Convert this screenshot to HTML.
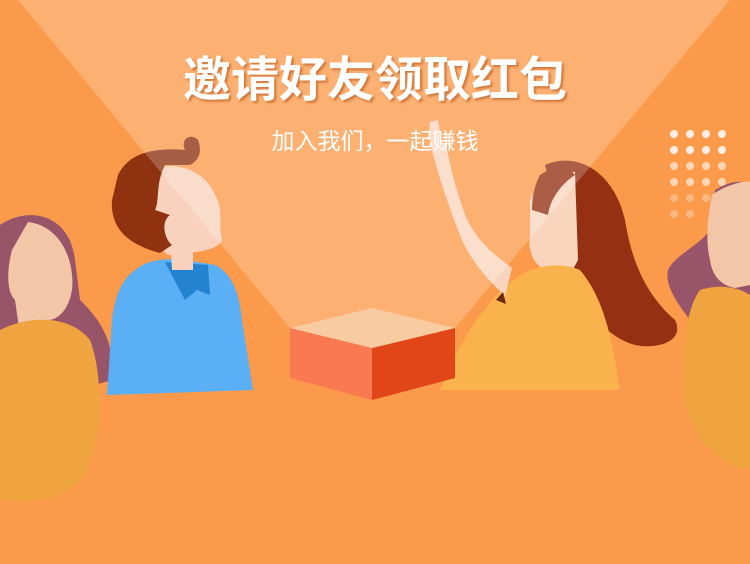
<!DOCTYPE html>
<html><head><meta charset="utf-8"><style>
html,body{margin:0;padding:0;width:750px;height:564px;overflow:hidden;background:#FB9A4A}
svg{display:block}
text{font-family:"Liberation Sans","Noto Sans CJK SC",sans-serif}
</style></head><body>
<svg width="750" height="564" viewBox="0 0 750 564">
<rect width="750" height="564" fill="#FB9A4A"/>
<g fill="#fff">
<g opacity="0.85"><circle cx="674" cy="134" r="4"/><circle cx="690" cy="134" r="4"/><circle cx="706" cy="134" r="4"/><circle cx="722" cy="134" r="4"/>
<circle cx="674" cy="150" r="4"/><circle cx="690" cy="150" r="4"/><circle cx="706" cy="150" r="4"/><circle cx="722" cy="150" r="4"/></g>
<g opacity="0.6"><circle cx="674" cy="166" r="4"/><circle cx="690" cy="166" r="4"/><circle cx="706" cy="166" r="4"/><circle cx="722" cy="166" r="4"/>
<circle cx="674" cy="182" r="4"/><circle cx="690" cy="182" r="4"/><circle cx="706" cy="182" r="4"/><circle cx="722" cy="182" r="4"/></g>
<g opacity="0.3"><circle cx="674" cy="198" r="4"/><circle cx="690" cy="198" r="4"/><circle cx="706" cy="198" r="4"/>
<circle cx="674" cy="214" r="4"/><circle cx="690" cy="214" r="4"/></g>
</g>
<g>
<path d="M0 225 C30 205 70 215 75 260 L80 300 C100 320 115 340 112 380 L60 395 L0 400 Z" fill="#985468"/>
<path d="M28 222 C55 225 70 250 72 275 C75 300 62 320 48 320 L48 335 L20 335 L15 300 C5 290 8 265 12 250 Z" fill="#F3C6A8"/>
<path d="M0 330 C30 315 70 315 90 340 C105 380 100 440 88 470 C70 500 30 505 0 500 Z" fill="#F0A43F"/>
</g>
<g>
<path d="M135 270 C155 255 175 258 215 265 C235 275 240 300 242 320 L253 390 L107 395 L112 320 C115 295 122 280 135 270 Z" fill="#5AAFF5"/>
<path d="M165 262 L185 300 L197 290 L210 295 L208 265 Z" fill="#2383D0"/>
<path d="M170 230 L172 270 L193 270 L193 240 Z" fill="#F8D2BE"/>
<path d="M150 170 C175 160 205 170 215 195 C224 210 218 225 222 240 C218 248 208 250 196 252 L168 255 C150 240 150 210 150 170 Z" fill="#F8D2BE"/>
<path d="M118 175 C130 150 160 148 185 150 C180 140 190 132 198 140 C202 150 200 160 190 165 L165 165 C155 185 160 200 155 210 L170 215 C160 222 165 240 172 245 L160 253 C130 245 110 230 112 200 Z" fill="#8E3210"/>
</g>
<g>
<path d="M545 165 C580 150 615 175 625 220 C630 250 640 290 675 320 C685 340 660 350 635 345 C600 335 580 300 570 260 Z" fill="#953012"/>
<path d="M530 200 C540 180 560 170 575 172 L578 260 L570 275 L545 270 C530 262 528 245 530 235 Z" fill="#FAD5BE"/>
<path d="M540 175 C555 165 568 165 575 175 C560 185 550 200 548 215 L532 210 C532 195 535 185 540 175 Z" fill="#953012"/>
<path d="M440 390 C460 340 485 300 520 275 C540 265 560 262 580 270 C605 300 612 340 620 390 Z" fill="#F9B24C"/>
<path d="M505 296 C488 280 472 262 462 240 C452 215 443 190 436 165 C432 150 428 140 430 122 L438 120 C440 135 443 145 447 150 C452 175 458 195 465 215 C475 238 490 252 512 268 Z" fill="#FAD5BE"/>
<path d="M496 300 L503 292 L506 304 Z" fill="#6B2A10"/>
</g>
<g>
<path d="M715 190 C740 175 750 185 750 185 L750 330 L690 320 C675 300 665 285 668 270 C675 255 700 245 710 230 Z" fill="#985468"/>
<path d="M712 195 C725 185 745 180 750 182 L750 285 L735 288 C720 285 712 275 710 260 C705 240 708 215 712 195 Z" fill="#F3C6A8"/>
<path d="M700 290 C715 285 735 285 750 295 L750 470 C720 465 690 440 685 400 C680 360 685 310 700 290 Z" fill="#F0A43F"/>
</g>
<polygon points="18,0 730,0 455,328 290,328" fill="#ffffff" opacity="0.22"/>
<g>
<polygon points="290,328 372,348 372,400 290,378" fill="#F97A50"/>
<polygon points="372,348 455,328 455,378 372,400" fill="#E04618"/>
<polygon points="290,328 372,308 455,328 372,348" fill="#F8CBA0"/>
</g>
<text x="375" y="96" text-anchor="middle" font-size="48" font-weight="bold" fill="#fff" style="filter:drop-shadow(2px 2px 1px rgba(180,80,20,0.6))">邀请好友领取红包</text>
<text x="375" y="149" text-anchor="middle" font-size="23" fill="#fff">加入我们，一起赚钱</text>
</svg>
</body></html>
